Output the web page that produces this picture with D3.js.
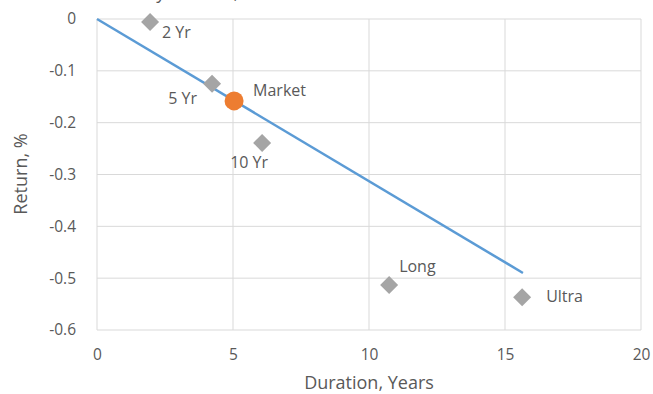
<!DOCTYPE html>
<html>
<head>
<meta charset="utf-8">
<script src="https://cdn.jsdelivr.net/npm/d3@7"></script>
<style>
  body { margin: 0; background: #fff; }
  svg text { font-family: "Open Sans", "Noto Sans", sans-serif; fill: #595959; }
</style>
</head>
<body>
<svg id="chart" width="653" height="394"></svg>
<script>
// contract data
const contracts = ['2 Yr', '5 Yr', '10 Yr', 'Long', 'Ultra'];
const durations = [1.95, 4.23, 6.07, 10.74, 15.63];
const returns = [-0.006, -0.125, -0.239, -0.513, -0.537];

const marketDuration = 5.04;
const marketReturn = -0.158;

// fitted line from the origin
const lineX = [0, 15.66];
const lineY = [0, -0.49];

const xTicks = [0, 5, 10, 15, 20];
const yTicks = [0, -0.1, -0.2, -0.3, -0.4, -0.5, -0.6];

const svg = d3.select('#chart');
const x = d3.scaleLinear().domain([0, 20]).range([97, 641]);
const y = d3.scaleLinear().domain([-0.6, 0]).range([330, 19]);

// title, mostly above the top edge (only descenders show)
svg.append('text')
    .attr('x', 92).attr('y', -1)
    .style('font-size', '18px')
    .text('Treasury Futures, Return vs. Duration');

// grid
const grid = svg.append('g');
grid.selectAll('line.h')
    .data(yTicks)
    .join('line')
    .attr('x1', x(0)).attr('x2', x(20))
    .attr('y1', d => y(d)).attr('y2', d => y(d))
    .attr('stroke', '#d9d9d9').attr('stroke-width', 1);
grid.selectAll('line.v')
    .data(xTicks)
    .join('line')
    .attr('x1', d => x(d)).attr('x2', d => x(d))
    .attr('y1', y(0)).attr('y2', y(-0.6))
    .attr('stroke', '#d9d9d9').attr('stroke-width', 1);

// axes (tick labels only)
const xAxis = svg.append('g')
    .attr('transform', `translate(0,${y(-0.6)})`)
    .call(d3.axisBottom(x).tickValues(xTicks).tickSize(0).tickPadding(19));
const yAxis = svg.append('g')
    .attr('transform', `translate(${x(0)},0)`)
    .call(d3.axisLeft(y).tickValues(yTicks).tickSize(0).tickPadding(21)
        .tickFormat(d => String(d)));
[xAxis, yAxis].forEach(a => {
    a.select('.domain').remove();
    a.selectAll('text').style('font-size', '15.5px').attr('fill', '#595959');
});

// axis titles
svg.append('text')
    .attr('x', 369).attr('y', 389)
    .attr('text-anchor', 'middle')
    .style('font-size', '18px')
    .text('Duration, Years');
svg.append('text')
    .attr('transform', 'translate(27,174) rotate(-90)')
    .attr('text-anchor', 'middle')
    .style('font-size', '18px')
    .text('Return, %');

// fitted line
svg.append('line')
    .attr('x1', x(lineX[0])).attr('y1', y(lineY[0]))
    .attr('x2', x(lineX[1])).attr('y2', y(lineY[1]))
    .attr('stroke', '#5b9bd5').attr('stroke-width', 2.5);

// contracts
const pts = contracts.map((c, i) => ({ name: c, dur: durations[i], ret: returns[i] }));
svg.append('g')
    .selectAll('path')
    .data(pts)
    .join('path')
    .attr('d', d3.symbol(d3.symbolSquare, 162))
    .attr('transform', d => `translate(${x(d.dur)},${y(d.ret)}) rotate(45)`)
    .attr('fill', '#a5a5a5');

// market
svg.append('circle')
    .attr('cx', x(marketDuration)).attr('cy', y(marketReturn))
    .attr('r', 9.5)
    .attr('fill', '#ed7d31');

// labels: [dx, dy, anchor]
const labelOffsets = {
    '2 Yr': [12, 16, 'start'],
    '5 Yr': [-15, 20, 'end'],
    '10 Yr': [-13, 25, 'middle'],
    'Long': [10, -13, 'start'],
    'Ultra': [24, 5, 'start']
};
svg.append('g')
    .selectAll('text')
    .data(pts)
    .join('text')
    .attr('x', d => x(d.dur) + labelOffsets[d.name][0])
    .attr('y', d => y(d.ret) + labelOffsets[d.name][1])
    .attr('text-anchor', d => labelOffsets[d.name][2])
    .style('font-size', '16px')
    .text(d => d.name);
svg.append('text')
    .attr('x', x(marketDuration) + 19).attr('y', y(marketReturn) - 5)
    .style('font-size', '16px')
    .text('Market');
</script>
</body>
</html>
